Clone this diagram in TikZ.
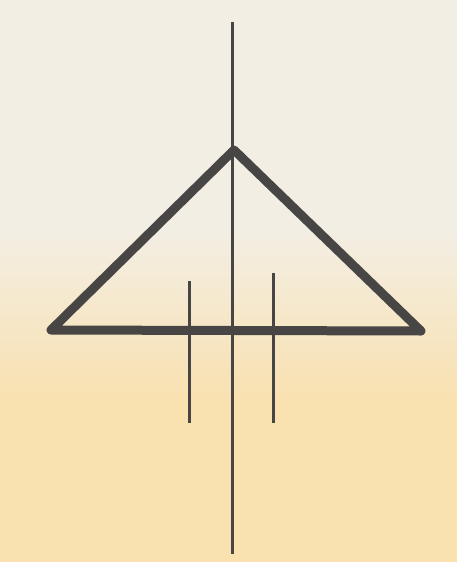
\documentclass[tikz,border=0pt]{standalone}
\usepackage{tikz}
\usetikzlibrary{positioning}
\definecolor{paperlight}{RGB}{243,238,228}
\definecolor{paperwarm}{RGB}{249,225,176}
\definecolor{inkgrey}{RGB}{72,70,68}
\begin{document}
\begin{tikzpicture}[x=1pt, y=-1pt,
    thickline/.style={draw=inkgrey, line width=9pt, line join=round, line cap=round},
    thinline/.style={draw=inkgrey, line width=3pt}
]
% paper background
\useasboundingbox (0,0) rectangle (457,562);
\fill[paperlight] (0,0) rectangle (457,230);
\shade[top color=paperlight, bottom color=paperwarm] (0,229) rectangle (457,400);
\fill[paperwarm] (0,399) rectangle (457,562);

\coordinate (apex) at (234,150);
\coordinate (lcorner) at (51,330);
\coordinate (rcorner) at (421,331);
\coordinate (axtop) at (232.5,22);
\coordinate (axbot) at (232.5,554);
\coordinate (ltop) at (189,281);
\coordinate (lbot) at (189,423);
\coordinate (rtop) at (273,273);
\coordinate (rbot) at (273,423);

\draw[thickline] (apex) -- (lcorner) -- (rcorner) -- cycle;
\draw[thinline] (axtop) -- (axbot);
\draw[thinline] (ltop) -- (lbot);
\draw[thinline] (rtop) -- (rbot);
\end{tikzpicture}
\end{document}
